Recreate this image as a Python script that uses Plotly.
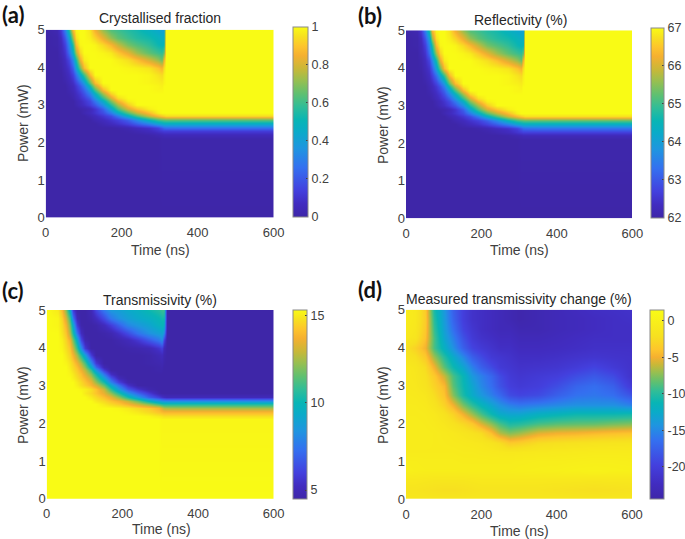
import plotly.graph_objects as go

# ---- data ----
time_a = [0,30,40,50,60,70,80,90,100,115,130,150,170,190,215,240,270,295,305,310,316,350,600]
power_a = [0,2.1,2.2,2.3,2.4,2.5,2.6,2.7,2.8,2.9,3.0,3.1,3.2,3.3,3.4,3.5,3.6,3.8,4.0,4.2,4.4,4.6,4.8,5.0]
# crystallised fraction in %, rows = power_a, columns = time_a
fraction_pct = [
 [0,0,0,0,0,0,0,0,0,0,0,0,0,0,0,0,0,0,0,0,0,0,0],
 [0,0,0,0,0,0,0,0,0,0,0,0,0,0,0,0,0,0,1,1,1,1,1],
 [0,0,0,0,0,0,0,0,0,0,0,0,0,0,0,0,1,3,4,5,5,5,5],
 [0,0,0,0,0,0,0,0,0,0,0,0,0,0,1,3,6,10,12,13,13,13,13],
 [0,0,0,0,0,0,0,0,0,0,0,0,0,1,3,6,9,14,20,24,25,26,26],
 [0,0,0,0,0,0,0,0,0,0,0,3,6,9,14,21,30,40,43,45,45,45,45],
 [0,0,0,0,0,0,0,0,0,0,3,6,10,14,22,34,50,60,63,64,65,65,65],
 [0,0,0,0,0,0,0,0,0,3,6,11,17,29,46,62,78,87,91,93,95,95,95],
 [0,0,0,0,0,0,0,0,3,6,10,17,29,45,63,77,88,98,100,100,100,100,100],
 [0,0,0,0,0,0,0,1,2,5,10,22,42,62,80,90,98,100,100,100,100,100,100],
 [0,0,0,0,0,0,2,5,8,13,20,35,56,74,91,100,100,100,100,100,100,100,100],
 [0,0,0,0,0,0,3,6,10,16,28,46,69,86,98,100,100,100,100,100,100,100,100],
 [0,0,0,0,0,2,5,9,13,22,37,59,80,95,100,100,100,100,100,100,100,100,100],
 [0,0,0,0,1,3,7,11,18,30,47,72,92,100,100,100,100,100,100,100,100,100,100],
 [0,0,0,0,2,5,9,15,23,40,62,87,100,100,100,100,100,99,99,100,100,100,100],
 [0,0,0,0,3,6,11,19,30,52,76,96,100,100,100,100,100,99,98,100,100,100,100],
 [0,0,0,1,4,8,15,25,38,65,88,100,100,100,100,100,99,98,97,99,100,100,100],
 [0,0,0,3,7,14,26,43,60,87,100,100,100,100,100,100,99,96,94,98,100,100,100],
 [0,0,1,5,10,22,41,66,88,100,100,100,100,100,99,98,96,90,86,95,100,100,100],
 [0,0,2,7,15,32,54,83,97,100,100,100,100,98,95,89,80,72,66,85,100,100,100],
 [0,0,4,10,25,46,73,93,100,100,100,99,97,91,83,73,65,60,58,65,100,100,100],
 [0,1,5,14,32,56,87,99,100,100,99,94,87,78,68,63,58,52,50,52,100,100,100],
 [0,1,7,20,40,73,95,100,100,98,93,83,72,65,60,56,53,49,47,47,100,100,100],
 [0,3,12,30,55,87,99,100,100,96,85,72,63,60,56,53,48,44,41,41,100,100,100],
]
reflectivity_range = [62, 67]
transmissivity_range = [15.36, 4.5]

time_d = [0,25,50,75,100,125,150,175,200,225,250,275,300,350,400,450,500,550,600]
power_d = [0,.25,.5,.75,1,1.25,1.5,1.75,2,2.25,2.5,2.75,3,3.25,3.5,3.75,4,4.25,4.5,4.75,5]
measured_change = [
 [-1.2,-1.2,-1.2,-1.3,-1.3,-1.3,-1.3,-1.2,-1.2,-1.2,-1.2,-1.2,-1.2,-1.2,-1.2,-1.3,-1.3,-1.2,-1.2],
 [-1.5,-1.5,-1.7,-1.9,-2.1,-2.1,-1.9,-1.7,-1.5,-1.5,-1.5,-1.5,-1.5,-1.5,-1.7,-1.9,-2.1,-1.9,-1.7],
 [-1,-1,-1.1,-1.2,-1.2,-1.2,-1.2,-1.1,-1,-1,-1,-1,-1,-1,-1,-1,-1.1,-1,-1],
 [0,-.2,-.3,-.3,-.3,-.3,-.3,-.3,-.3,-.3,-.3,-.3,-.2,-.1,0,.2,.3,.2,.1],
 [-.3,-.3,-.4,-.4,-.4,-.4,-.5,-.5,-.5,-.5,-.5,-.5,-.4,-.3,-.3,-.2,-.1,-.1,-.2],
 [-.6,-.6,-.6,-.6,-.6,-.6,-.7,-.7,-.8,-.9,-1,-1.1,-1,-.9,-.8,-.7,-.6,-.6,-.6],
 [-.5,-.5,-.5,-.6,-.7,-.8,-.9,-1,-1.2,-1.6,-2.3,-3.6,-3.3,-2.3,-2,-1.8,-1.6,-1.5,-1.4],
 [-.5,-.5,-.5,-.6,-.8,-1,-1.4,-1.8,-2.4,-4.2,-6.5,-7.5,-7,-5.5,-5,-4.8,-4.5,-4.2,-4],
 [-.5,-.5,-.6,-.8,-1.2,-1.8,-2.6,-3.6,-5.5,-7.2,-9,-10.3,-10,-9,-8.5,-8.3,-8.2,-7.8,-7.5],
 [-.6,-.6,-.7,-1,-1.8,-3,-5,-7,-9,-11,-12.5,-13,-13,-12,-11.5,-11,-11,-11,-10.8],
 [-.7,-.7,-.9,-1.6,-3,-5,-7.8,-9.8,-11.5,-13,-14.5,-15.5,-16,-15.5,-15,-14.5,-14.5,-14.5,-15.5],
 [-.8,-.9,-1.2,-2.3,-4,-7.5,-10.5,-12.5,-14,-15.5,-17,-19,-19.5,-19,-17.5,-16.3,-16,-16.5,-18.5],
 [-1,-1.1,-1.7,-3,-4.5,-8.5,-11,-13,-15,-16.5,-18.5,-20,-20.5,-20,-18.8,-17.2,-16.5,-17.5,-20.5],
 [-1,-1.2,-2,-3.6,-6,-9,-11.3,-14,-15.5,-17,-19,-20.5,-21,-20.5,-20,-18.8,-18,-19,-21.5],
 [-1,-1.3,-2.4,-5,-8.5,-11,-13,-15.5,-17.5,-19,-20.5,-21,-21.5,-21.3,-21,-20.3,-19.5,-20.5,-21.5],
 [-1.5,-2,-3.6,-7,-10,-12.5,-15,-17.5,-19,-20.5,-21,-21.5,-22,-22,-21.7,-21.3,-21,-21.3,-21.5],
 [-2,-3,-4.8,-9,-12,-14.5,-17.5,-19.5,-20.5,-21.3,-22,-22,-22.5,-22.5,-22.3,-22,-21.7,-21.7,-21.7],
 [-1,-1.5,-4,-9,-13,-15.5,-18.5,-20.5,-21.5,-22,-22.5,-22.5,-23,-23,-22.7,-22.3,-22,-22,-22],
 [-.7,-1.2,-3.6,-9.5,-13.5,-16.5,-19.5,-21,-22,-22.5,-23,-23,-23.5,-23.5,-23,-22.7,-22.3,-22,-22],
 [-.5,-1,-3.4,-10,-13.8,-17.2,-20,-21.5,-22,-22.5,-23,-23.5,-24,-23.5,-23,-22.7,-22.3,-22,-21.7],
 [-.5,-1,-3.5,-10.5,-14,-17.5,-20,-21.5,-22,-22.5,-23,-23.5,-24,-23.5,-23,-22.5,-22,-21.8,-21.5],
]

ticks_time = [0, 200, 400, 600]
ticks_power = [0, 1, 2, 3, 4, 5]
titles = ["Crystallised fraction", "Reflectivity (%)", "Transmissivity (%)", "Measured transmissivity change (%)"]
labels = ["(a)", "(b)", "(c)", "(d)"]

# derived maps: reflectivity and transmissivity are linear in the fraction
fraction = [[v / 100 for v in r] for r in fraction_pct]
reflectivity = [[reflectivity_range[0] + v * (reflectivity_range[1] - reflectivity_range[0]) for v in r] for r in fraction]
transmissivity = [[transmissivity_range[0] + v * (transmissivity_range[1] - transmissivity_range[0]) for v in r] for r in fraction]

W, H = 685, 539
COLORS = [[0,"#3e26a8"],[.07,"#412cc0"],[.14,"#4340de"],[.26,"#3470f0"],[.36,"#1f95e0"],[.45,"#0aabc8"],[.51,"#08b5b5"],
          [.58,"#30bd98"],[.65,"#60c070"],[.72,"#98bf50"],[.78,"#c8b838"],[.85,"#f5b030"],[.9,"#fdc52c"],[.95,"#f7e020"],[1,"#f9fb15"]]
COLORS_D = [[0,"#3e26a8"],[.08,"#412cc0"],[.18,"#4340de"],[.31,"#3470f0"],[.39,"#1f95e0"],[.46,"#0aabc8"],[.51,"#08b5b5"],
            [.57,"#30bd98"],[.62,"#60c070"],[.67,"#98bf50"],[.71,"#c8b838"],[.75,"#f5b030"],[.79,"#fdc52c"],[.86,"#f7e020"],[1,"#f9fb15"]]
GREY = "#404040"
FONT = "Liberation Sans"

panels = [
 dict(z=fraction, x=time_a, y=power_a, zr=[0,1], cs=COLORS, box=[45.7,273.7,29.7,217.5], cb=[292.7,307.3,27.3,216.8],
      tv=[0,.2,.4,.6,.8,1], tt=["0","0.2","0.4","0.6","0.8","1"], tx=160, ty=18.5, lx=0, ly=14,
      xl=[160,250], yl=[23,123]),
 dict(z=reflectivity, x=time_a, y=power_a, zr=[62,67], cs=COLORS, box=[406,632.3,30.3,218.3], cb=[651,664.3,27.7,217.7],
      tv=[62,63,64,65,66,67], tt=["62","63","64","65","66","67"], tx=520, ty=19.5, lx=356, ly=15,
      xl=[519,250], yl=[383,125]),
 dict(z=transmissivity, x=time_a, y=power_a, zr=[4.5,15.36], cs=COLORS, box=[46.7,273.7,310,498.7], cb=[292.5,306,309.5,498.7],
      tv=[5,10,15], tt=["5","10","15"], tx=160, ty=299.5, lx=0, ly=290,
      xl=[161,529], yl=[23,405]),
 dict(z=measured_change, x=time_d, y=power_d, zr=[-24.4,1.5], cs=COLORS_D, box=[406,632,309.7,499], cb=[649.7,664,310,499],
      tv=[-20,-15,-10,-5,0], tt=["-20","-15","-10","-5","0"], tx=519, ty=299, lx=356, ly=289,
      xl=[519,530.5], yl=[383,405]),
]

fig = go.Figure()
annotations = []
layout = {}
for i, p in enumerate(panels):
    s = "" if i == 0 else str(i + 1)
    x0, x1, y0, y1 = p["box"]
    c0, c1, d0, d1 = p["cb"]
    fig.add_trace(go.Heatmap(
        z=p["z"], x=p["x"], y=p["y"], xaxis="x" + s, yaxis="y" + s,
        zmin=p["zr"][0], zmax=p["zr"][1], zsmooth="best", colorscale=p["cs"],
        colorbar=dict(x=c0 / W, xanchor="left", xpad=0, ypad=0, y=1 - d1 / H, yanchor="bottom",
                      len=(d1 - d0) / H, lenmode="fraction", thickness=c1 - c0, thicknessmode="pixels",
                      outlinecolor="#8a8a8a", outlinewidth=1, tickmode="array", tickvals=p["tv"], ticktext=p["tt"],
                      ticks="inside", ticklen=2, tickcolor=GREY, tickfont=dict(family=FONT, size=12.5, color=GREY)),
    ))
    layout["xaxis" + s] = dict(domain=[x0 / W, x1 / W], anchor="y" + s, range=[0, 600], tickvals=ticks_time,
                               showgrid=False, zeroline=False, showline=False, automargin=False,
                               ticks="outside", ticklen=3, tickcolor="rgba(0,0,0,0)",
                               tickfont=dict(family=FONT, size=13, color=GREY))
    layout["yaxis" + s] = dict(domain=[1 - y1 / H, 1 - y0 / H], anchor="x" + s, range=[0, 5], tickvals=ticks_power,
                               showgrid=False, zeroline=False, showline=False, ticks="", automargin=False,
                               tickfont=dict(family=FONT, size=13, color=GREY))
    annotations.append(dict(text=titles[i], xref="paper", yref="paper", x=p["tx"] / W, y=1 - p["ty"] / H,
                            showarrow=False, xanchor="center", yanchor="middle",
                            font=dict(family=FONT, size=14, color="#262626")))
    annotations.append(dict(text="Time (ns)", xref="paper", yref="paper", x=p["xl"][0] / W, y=1 - p["xl"][1] / H,
                            showarrow=False, xanchor="center", yanchor="middle",
                            font=dict(family=FONT, size=14, color=GREY)))
    annotations.append(dict(text="Power (mW)", xref="paper", yref="paper", x=p["yl"][0] / W, y=1 - p["yl"][1] / H,
                            showarrow=False, xanchor="center", yanchor="middle", textangle=-90,
                            font=dict(family=FONT, size=14, color=GREY)))
    annotations.append(dict(text="<b>" + labels[i] + "</b>", xref="paper", yref="paper", x=p["lx"] / W, y=1 - p["ly"] / H,
                            showarrow=False, xanchor="left", yanchor="middle",
                            font=dict(family="Lato", size=22, color="#111111")))

fig.update_layout(width=W, height=H, margin=dict(l=0, r=0, t=0, b=0, autoexpand=False),
                  paper_bgcolor="white", plot_bgcolor="white", annotations=annotations, **layout)
fig.write_html("out.html", config={"displayModeBar": False},
               post_script="document.body.style.margin='0';document.documentElement.style.overflow='hidden';")
